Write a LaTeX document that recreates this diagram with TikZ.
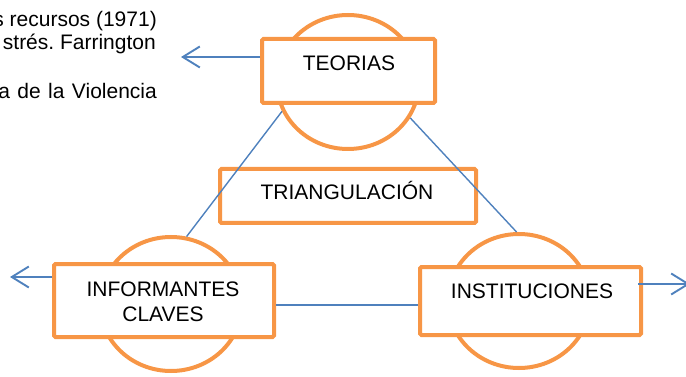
\documentclass[tikz,border=0pt]{standalone}
\usepackage{fontspec}
\setmainfont{Liberation Sans}
\usetikzlibrary{shapes.geometric,arrows.meta}
\definecolor{orng}{HTML}{F79646}
\definecolor{blu}{HTML}{4F81BD}
\frenchspacing
\begin{document}
\begin{tikzpicture}[x=1pt,y=-1pt,
  ring/.style={ellipse, draw=orng, line width=4pt, minimum width=142pt, minimum height=134pt, inner sep=0pt},
  box/.style={rectangle, draw=orng, fill=white, line width=4pt, rounded corners=1.5pt, inner sep=0pt},
  lbl/.style={inner sep=0pt, anchor=base, font=\fontsize{21}{25}\selectfont},
  link/.style={draw=blu, line width=1.4pt},
  arr/.style={draw=blu, line width=1.9pt, -{Straight Barb[length=17pt,width=21pt]}}]
\useasboundingbox (0,0) rectangle (686,377);
\begin{scope}
\clip (0,0) rectangle (686,377);
% left clipped text
\node[lbl, anchor=base east] (q1) at (157,27) {s recursos (1971)};
\node[lbl, anchor=base east] (q2) at (156,50) {strés. Farrington};
\node[lbl, anchor=base east] (q3) at (157,99) {a\hspace{7.4pt}de\hspace{7.4pt}la\hspace{7.4pt}Violencia};
% rings
\node[ring] (teoC) at (348,82) {};
\node[ring] (infC) at (171,304) {};
\node[ring] (insC) at (519,301) {};
% boxes
\node[box, minimum width=173pt, minimum height=64pt] (teoB) at (348.5,71) {};
\node[box, minimum width=220pt, minimum height=73pt] (infB) at (164,300.5) {};
\node[box, minimum width=221pt, minimum height=68pt] (insB) at (530.5,301) {};
\node[box, minimum width=256pt, minimum height=54pt] (triB) at (348,196) {};
% labels
\node[lbl] (teoT) at (349,71) {TEORIAS};
\node[lbl] (infT1) at (163,296) {INFORMANTES};
\node[lbl] (infT2) at (163,321.7) {CLAVES};
\node[lbl] (insT) at (532,298.3) {INSTITUCIONES};
\node[lbl] (triT) at (347,200) {TRIANGULACIÓN};
% connectors
\draw[link] (teoC.204) -- (infC.77);
\draw[link] (teoC.-30) -- (insC.92);
\coordinate (hl) at (0,305);
\draw[link] (infB.east |- hl) -- (insB.west |- hl);
% arrows
\coordinate (t1) at (181,57);
\draw[arr] (teoB.west |- t1) -- (t1);
\coordinate (t2) at (10,277);
\draw[arr] (infB.west |- t2) -- (t2);
\coordinate (t3s) at (638,284);
\coordinate (t3) at (690,284);
\draw[arr] (t3s) -- (t3);
\end{scope}
\end{tikzpicture}
\end{document}
